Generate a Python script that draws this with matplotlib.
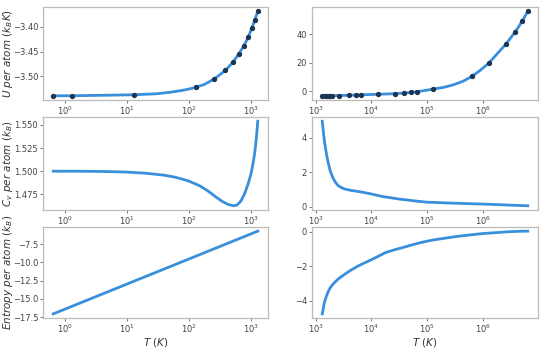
import matplotlib
matplotlib.use("Agg")
import matplotlib.pyplot as plt

# ---- data ----
# Top-left: internal energy, low temperature range
TL_T_pts = [0.65, 1.3, 13, 130, 260, 390, 520, 650, 780, 910, 1040, 1170, 1300]
TL_U_pts = [-3.539, -3.539, -3.537, -3.522, -3.505, -3.488, -3.471, -3.454,
            -3.438, -3.4215, -3.4035, -3.386, -3.369]
TL_T_line = [0.65, 1.3, 13, 30, 50, 80, 105, 130, 180, 220, 260, 390, 520, 650, 780,
             910, 1040, 1170, 1300]
TL_U_line = [-3.539, -3.539, -3.537, -3.535, -3.532, -3.528, -3.525, -3.522, -3.516,
             -3.510, -3.505, -3.488, -3.471, -3.454, -3.438, -3.4215, -3.4035, -3.386,
             -3.369]

# Top-right: internal energy, high temperature range
TR_T_pts = [1300, 1430, 1560, 1690, 1820, 1950, 2600, 3900, 5200, 6500, 13000, 26000,
            39000, 52000, 65000, 130000, 650000, 1.3e6, 2.6e6, 3.9e6, 5.2e6, 6.5e6]
TR_U_pts = [-3.37, -3.35, -3.33, -3.32, -3.30, -3.28, -3.2, -3.03, -2.86, -2.69, -2.3,
            -1.9, -1.4, -1.0, -0.5, 1.4, 10.5, 19.8, 32.9, 41.9, 49.5, 56.4]
TR_T_line = [1300, 1950, 2600, 3900, 5200, 6500, 13000, 26000, 39000, 52000, 65000,
             90000, 130000, 200000, 300000, 450000, 650000, 900000, 1.3e6, 1.9e6, 2.6e6,
             3.9e6, 5.2e6, 6.5e6]
TR_U_line = [-3.37, -3.28, -3.2, -3.03, -2.86, -2.69, -2.3, -1.9, -1.4, -1.0, -0.5,
             0.3, 1.4, 2.6, 4.4, 7.0, 10.5, 14.5, 19.8, 27.0, 32.9, 41.9, 49.5, 56.4]

# Middle-left: heat capacity, low temperature range
ML_T = [0.65, 2, 5, 10, 20, 40, 60, 80, 100, 150, 200, 280, 350, 430, 527, 600, 700,
        800, 900, 1000, 1050, 1100, 1150, 1200, 1250, 1300]
ML_Cv = [1.5000, 1.4999, 1.4996, 1.4990, 1.4978, 1.4957, 1.4935, 1.4913, 1.4893,
         1.4842, 1.4790, 1.4717, 1.4672, 1.4641, 1.4626, 1.4633, 1.4680, 1.4760,
         1.4855, 1.4960, 1.5025, 1.5100, 1.5180, 1.5280, 1.5400, 1.5540]

# Middle-right: heat capacity, high temperature range
MR_T = [1300, 1360, 1420, 1530, 1640, 1800, 2030, 2250, 2500, 2900, 3320, 4300, 5800,
        8850, 15600, 31400, 73000, 1e5, 3e5, 1e6, 3e6, 6.5e6]
MR_Cv = [4.97, 4.35, 3.81, 3.15, 2.64, 2.10, 1.67, 1.42, 1.24, 1.11, 1.03, 0.95, 0.89,
         0.78, 0.60, 0.45, 0.31, 0.27, 0.21, 0.16, 0.10, 0.06]

# Bottom-left: entropy, low temperature range
BL_T = [0.65, 1, 10, 100, 1000, 1300]
BL_S = [-17.05, -16.41, -12.97, -9.53, -6.09, -5.70]

# Bottom-right: entropy, high temperature range
BR_T = [1300, 1360, 1420, 1530, 1640, 1800, 2030, 2500, 3320, 4300, 5800, 7800, 10300,
        13500, 17800, 25000, 36000, 55000, 83000, 1.3e5, 2e5, 3.4e5, 6e5, 1e6, 1.7e6,
        2.8e6, 4.5e6, 6.5e6]
BR_S = [-4.77, -4.42, -4.10, -3.78, -3.52, -3.26, -3.04, -2.75, -2.46, -2.22, -1.98,
        -1.78, -1.60, -1.41, -1.21, -1.06, -0.92, -0.75, -0.60, -0.47, -0.38, -0.27,
        -0.18, -0.10, -0.05, 0.0, 0.03, 0.04]

LINE = "#3a8fdc"
MARK = "#1b3553"

fig = plt.figure(figsize=(5.5, 3.5), dpi=100)
W = 550.0
H = 350.0

def box(x0, y0, x1, y1):
    return [x0 / W, 1 - y1 / H, (x1 - x0) / W, (y1 - y0) / H]

cols = [(43, 268), (312, 538)]
rows = [(7, 100), (117, 210), (227, 318)]

axes = [[fig.add_axes(box(c[0], r[0], c[1], r[1])) for c in cols] for r in rows]

def style(ax):
    ax.set_xscale("log")
    ax.minorticks_off()
    for s in ax.spines.values():
        s.set_color("#bbbbbb")
        s.set_linewidth(0.9)
    ax.tick_params(axis="both", which="major", labelsize=6, colors="#444444",
                   length=2, width=0.5, pad=1.5)

LBL = dict(fontsize=7.5, color="#333333")

ax = axes[0][0]
ax.plot(TL_T_line, TL_U_line, color=LINE, lw=2, zorder=2)
ax.plot(TL_T_pts, TL_U_pts, "o", color=MARK, ms=2.8, zorder=3)
ax.set_ylabel(r"$U\ per\ atom\ (k_BK)$", **LBL)
ax.set_yticks([-3.50, -3.45, -3.40])

ax = axes[0][1]
ax.plot(TR_T_line, TR_U_line, color=LINE, lw=2, zorder=2)
ax.plot(TR_T_pts, TR_U_pts, "o", color=MARK, ms=2.8, zorder=3)
ax.set_yticks([0, 20, 40])

ax = axes[1][0]
ax.plot(ML_T, ML_Cv, color=LINE, lw=2)
ax.set_ylabel(r"$C_v\ per\ atom\ (k_B)$", **LBL)
ax.set_yticks([1.475, 1.500, 1.525, 1.550])

ax = axes[1][1]
ax.plot(MR_T, MR_Cv, color=LINE, lw=2)
ax.set_yticks([0, 2, 4])

ax = axes[2][0]
ax.plot(BL_T, BL_S, color=LINE, lw=2)
ax.set_ylabel(r"$Entropy\ per\ atom\ (k_B)$", **LBL)
ax.set_xlabel(r"$T\ (K)$", **LBL)
ax.set_yticks([-17.5, -15.0, -12.5, -10.0, -7.5])

ax = axes[2][1]
ax.plot(BR_T, BR_S, color=LINE, lw=2)
ax.set_xlabel(r"$T\ (K)$", **LBL)
ax.set_yticks([-4, -2, 0])

for r in axes:
    for a in r:
        style(a)

for r in axes:
    r[0].yaxis.set_label_coords(-0.125, 0.5)
axes[2][0].xaxis.set_label_coords(0.5, -0.195)
axes[2][1].xaxis.set_label_coords(0.5, -0.195)

fig.savefig("out.png", dpi=100)
